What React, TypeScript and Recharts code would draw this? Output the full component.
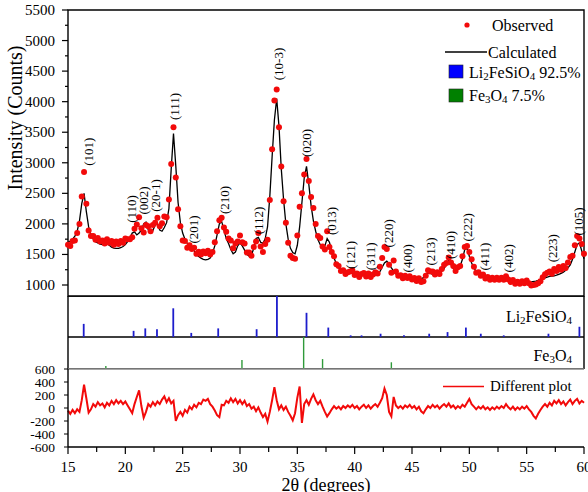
import React from "react";
import {
  ComposedChart,
  Line,
  Scatter,
  XAxis,
  YAxis,
  ReferenceArea,
  ReferenceLine
} from "recharts";

const serif = "'Liberation Serif', 'Times New Roman', serif";
const red = "#f20a0a";

// 2θ scan, 15° to 60° in 0.2° steps
const observed = [
  1660, 1640, 1720, 1730, 1850, 2000, 2450, 2850, 2330, 1890,
  1800, 1800, 1740, 1770, 1710, 1730, 1680, 1750, 1690, 1720,
  1660, 1710, 1670, 1720, 1690, 1760, 1750, 1750, 1780, 1920,
  1990, 2110, 1930, 1860, 1980, 1960, 1880, 1980, 2020, 2100,
  1960, 2010, 2120, 2110, 2400, 2980, 3580, 2760, 2240, 1960,
  1730, 1720, 1610, 1650, 1590, 1610, 1510, 1545, 1500, 1550,
  1520, 1560, 1500, 1540, 1700, 1880, 2060, 2100, 1940, 1870,
  1760, 1730, 1600, 1680, 1710, 1810, 1700, 1680, 1530, 1530,
  1480, 1620, 1710, 1850, 1630, 1540, 1670, 1740, 2390, 3220,
  4020, 4200, 3580, 2940, 2370, 2020, 1690, 1480, 1440, 1430,
  1810, 2280, 2500, 2810, 3060, 2700, 2440, 2260, 2000, 1800,
  1770, 1630, 1580, 1880, 1620, 1540, 1470, 1340, 1310, 1230,
  1240, 1180, 1210, 1220, 1240, 1165, 1190, 1130, 1180, 1195,
  1140, 1190, 1130, 1170, 1210, 1190, 1300, 1440, 1620, 1590,
  1330, 1200, 1400, 1220, 1150, 1160, 1110, 1150, 1115, 1145,
  1090, 1115, 1065, 1110, 1050, 1060, 1150, 1240, 1220, 1220,
  1170, 1210, 1180, 1260, 1330, 1360, 1450, 1370, 1310, 1230,
  1290, 1310, 1470, 1620, 1640, 1540, 1420, 1300, 1200, 1210,
  1150, 1170, 1105, 1130, 1085, 1120, 1085, 1120, 1085, 1120,
  1085, 1145, 1090, 1050, 1080, 1020, 1055, 1020, 1060, 1030,
  1075, 1030, 990, 1000, 1010, 1030, 1060, 1125, 1175, 1200,
  1220, 1185, 1260, 1230, 1295, 1250, 1310, 1280, 1370, 1460,
  1480, 1650, 1800, 1760, 1670, 1510
];

const calculated = [
  1700, 1720, 1750, 1800, 1880, 2050, 2330, 2500, 2200, 1950,
  1820, 1750, 1710, 1690, 1670, 1660, 1665, 1675, 1650, 1620,
  1605, 1598, 1600, 1610, 1630, 1660, 1710, 1770, 1850, 1870,
  1820, 1850, 1900, 2000, 2030, 1900, 1860, 1890, 1980, 2000,
  1900, 1880, 1940, 2020, 2250, 2900, 3480, 2950, 2350, 2020,
  1850, 1750, 1680, 1630, 1610, 1560, 1500, 1465, 1440, 1420,
  1410, 1420, 1440, 1520, 1640, 1820, 2000, 2040, 1900, 1760,
  1680, 1580, 1510, 1540, 1640, 1690, 1640, 1570, 1500, 1470,
  1490, 1600, 1760, 1780, 1700, 1680, 1760, 1950, 2450, 3100,
  3700, 4050, 3600, 2900, 2400, 2000, 1750, 1600, 1530, 1510,
  1650, 1950, 2350, 2750, 2940, 2650, 2300, 2050, 1880, 1740,
  1660, 1610, 1640, 1760, 1700, 1560, 1440, 1350, 1290, 1250,
  1210, 1185, 1175, 1210, 1195, 1175, 1170, 1160, 1165, 1155,
  1150, 1155, 1150, 1150, 1160, 1175, 1220, 1290, 1360, 1390,
  1350, 1280, 1230, 1180, 1150, 1130, 1120, 1110, 1105, 1095,
  1090, 1085, 1085, 1090, 1100, 1120, 1150, 1190, 1200, 1170,
  1160, 1170, 1190, 1230, 1270, 1340, 1410, 1360, 1270, 1240,
  1260, 1310, 1420, 1580, 1600, 1470, 1360, 1280, 1220, 1190,
  1160, 1140, 1125, 1120, 1115, 1110, 1105, 1100, 1095, 1090,
  1085, 1085, 1080, 1070, 1060, 1050, 1045, 1040, 1040, 1042,
  1045, 1048, 1052, 1058, 1065, 1075, 1090, 1105, 1115, 1130,
  1140, 1145, 1150, 1160, 1175, 1190, 1210, 1240, 1280, 1330,
  1420, 1540, 1660, 1690, 1560, 1430
];

const difference = [
  -40, -90, -30, -80, -20, -60, 120, 360, 150, -70,
  -20, 60, 20, 90, 40, 70, 10, 80, 40, 110,
  60, 120, 70, 110, 60, 100, 40, -20, -80, 60,
  170, 270, 30, -150, -60, 60, 20, 90, 40, 100,
  60, 130, 180, 90, 150, 70, 110, -200, -110, -60,
  -120, -30, -70, 20, -20, 50, 10, 80, 60, 130,
  110, 140, 60, 20, -40, -110, -140, 50, 40, 110,
  80, 150, 90, 140, 70, 120, 60, 110, 30, 60,
  -10, 20, -50, 10, -70, -140, -90, -210, -60, 120,
  320, 120, -20, 40, -30, 20, -60, -120, -190, -80,
  160, 330, -230, 60, 120, 50, 140, 210, 120, 60,
  110, 20, -60, -130, -80, -20, 30, -10, 20, -20,
  30, 0, 40, 10, 50, 0, 30, -20, 20, 50,
  0, 40, -10, 30, 60, 20, 80, 150, 300, 200,
  -60, -130, 170, 40, 0, 30, -10, 40, 10, 50,
  0, 30, -20, 20, -50, -80, -20, 30, 0, 50,
  10, 40, -10, 30, 60, 20, 70, 10, 40, -10,
  30, 0, 50, 20, 80, 140, 60, 20, -20, 20,
  -10, 30, -20, 10, -30, 10, -20, 20, -10, 30,
  0, 60, 10, -20, 20, -30, 10, -20, 20, -10,
  30, -20, -60, -120, -160, -90, -30, 20, 60, 20,
  80, 40, 110, 70, 120, 60, 100, 40, 90, 130,
  60, 110, 140, 70, 110, 80
];

// Bragg reflections: 2θ and relative intensity
const lfsPositions = [
  16.37, 20.72, 21.74, 22.76, 24.18, 25.75, 28.1, 31.45, 33.22, 35.8,
  37.7, 39.65, 40.6, 42.26, 44.3, 46.5, 48.1, 49.7, 51.0, 53.0, 56.9, 59.6
];
const lfsIntensity = [
  32, 15, 21, 19, 70, 10, 21, 19, 100, 59,
  23, 4, 4, 8, 4, 8, 12, 23, 8, 4, 8, 25
];
const fe3o4Positions = [18.3, 30.17, 35.55, 37.2, 43.2];
const fe3o4Intensity = [9, 28, 100, 31, 21];

// hkl labels of Li2FeSiO4 reflections (2θ, intensity level of the label centre)
const hklNames = [
  "(101)", "(110)", "(002)", "(20-1)", "(111)", "(201)", "(210)", "(112)",
  "(10-3)", "(020)", "(013)", "(121)", "(311)", "(220)", "(400)", "(213)",
  "(410)", "(222)", "(411)", "(402)", "(223)", "(105)"
];
const hklTheta = [
  16.77, 20.56, 21.57, 22.59, 24.27, 25.93, 28.69, 31.6,
  33.34, 35.76, 38.0, 39.65, 41.36, 42.98, 44.61, 46.64,
  48.38, 49.84, 51.28, 53.46, 57.25, 59.56
];
const hklLevel = [
  3181, 2244, 2383, 2465, 3921, 1908, 2391, 2055,
  4616, 3324, 2047, 1491, 1470, 1846, 1437, 1548,
  1655, 1944, 1466, 1437, 1601, 2039
];

const intensityTicks = [
  1000, 1250, 1500, 1750, 2000, 2250, 2500, 2750, 3000, 3250,
  3500, 3750, 4000, 4250, 4500, 4750, 5000, 5250, 5500
];
const thetaTicks = [15, 17.5, 20, 22.5, 25, 27.5, 30, 32.5, 35, 37.5, 40, 42.5, 45, 47.5, 50, 52.5, 55, 57.5, 60];
const diffTicks = [-600, -400, -200, 0, 200, 400, 600];

const scan = observed.map((obs, i) => ({
  tt: Math.round((15 + i * 0.2) * 10) / 10,
  obs,
  calc: calculated[i],
  diff: difference[i]
}));
const lfsSticks = lfsPositions.map((tt, i) => ({ tt, h: lfsIntensity[i] }));
const feSticks = fe3o4Positions.map((tt, i) => ({ tt, h: fe3o4Intensity[i] }));
const hklLabels = hklNames.map((hkl, i) => ({ hkl, tt: hklTheta[i], level: hklLevel[i] }));

const IntensityTick = (props: any) => {
  const { x, y, payload } = props;
  const major = payload.value % 500 === 0;
  return (
    <g>
      <line x1={x + 13 - (major ? 6 : 3)} x2={x + 13} y1={y} y2={y} stroke="#000" strokeWidth={1.2} />
      {major && (
        <text x={x} y={y} textAnchor="end" dominantBaseline="central" fontSize={15} fontFamily={serif} fill="#000">
          {payload.value}
        </text>
      )}
    </g>
  );
};

const ThetaTick = (props: any) => {
  const { x, y, payload } = props;
  const major = payload.value % 5 === 0;
  const axisY = y - 14;
  return (
    <g>
      <line x1={x} x2={x} y1={axisY} y2={axisY + (major ? 7 : 5)} stroke="#000" strokeWidth={1.2} />
      {major && (
        <text x={x} y={y} dy="0.75em" textAnchor="middle" fontSize={15} fontFamily={serif} fill="#000">
          {payload.value}
        </text>
      )}
    </g>
  );
};

const HklLabel = (props: any) => {
  const { cx, cy, payload } = props;
  return (
    <text
      x={cx}
      y={cy}
      transform={`rotate(-90 ${cx} ${cy})`}
      textAnchor="middle"
      dominantBaseline="central"
      fontSize={13}
      fontFamily={serif}
      fill="#000"
    >
      {payload.hkl}
    </text>
  );
};

// chemical formula with subscripts, e.g. [["Li","2"],["FeSiO","4"]]
const Formula = ({ parts, tail }: { parts: string[][]; tail?: string }) => (
  <>
    {parts.map(([base, sub], i) => (
      <React.Fragment key={i}>
        <tspan dy={i === 0 ? 0 : -4}>{base}</tspan>
        <tspan fontSize={11} dy={4}>{sub}</tspan>
      </React.Fragment>
    ))}
    {tail && <tspan dy={-4}>{tail}</tspan>}
  </>
);

const Nothing = () => <g />;

export default function App() {
  return (
    <div
      style={{
        position: "absolute",
        left: 0,
        top: 0,
        width: 588,
        height: 492,
        overflow: "hidden",
        background: "#fff",
        fontFamily: serif
      }}
    >
      {/* observed / calculated pattern */}
      <div style={{ position: "absolute", left: 0, top: 0 }}>
        <ComposedChart width={588} height={300} data={scan} margin={{ top: 10, right: 4, bottom: 4, left: 8 }}>
          <XAxis dataKey="tt" type="number" domain={[15, 60]} hide />
          <YAxis
            type="number"
            domain={[820, 5500]}
            ticks={intensityTicks}
            interval={0}
            allowDataOverflow
            width={60}
            axisLine={false}
            tickLine={false}
            tickSize={6}
            tickMargin={7}
            tick={<IntensityTick />}
          />
          <ReferenceArea x1={15} x2={60} y1={820} y2={5500} fill="none" stroke="#000" strokeWidth={1.4} />
          <Scatter
            dataKey="obs"
            isAnimationActive={false}
            shape={(p: any) => <circle cx={p.cx} cy={p.cy} r={3} fill={red} />}
          />
          <Line
            dataKey="calc"
            type="linear"
            stroke="#000"
            strokeWidth={1.3}
            dot={false}
            isAnimationActive={false}
          />
          <Scatter data={hklLabels} dataKey="level" isAnimationActive={false} shape={<HklLabel />} />
        </ComposedChart>
      </div>

      {/* Li2FeSiO4 reflections */}
      <div style={{ position: "absolute", left: 0, top: 296 }}>
        <ComposedChart width={588} height={41} data={lfsSticks} margin={{ top: 0, right: 4, bottom: 0, left: 68 }}>
          <XAxis dataKey="tt" type="number" domain={[15, 60]} hide />
          <YAxis type="number" domain={[0, 100]} hide />
          <Scatter dataKey="h" isAnimationActive={false} shape={<Nothing />} />
          {lfsSticks.map((s) => (
            <ReferenceLine
              key={s.tt}
              segment={[{ x: s.tt, y: 0 }, { x: s.tt, y: s.h }]}
              stroke="#1d1dcc"
              strokeWidth={1.8}
            />
          ))}
          <ReferenceArea x1={15} x2={60} y1={0} y2={100} fill="none" stroke="#000" strokeWidth={1.4} />
        </ComposedChart>
      </div>

      {/* Fe3O4 reflections */}
      <div style={{ position: "absolute", left: 0, top: 337 }}>
        <ComposedChart width={588} height={32} data={feSticks} margin={{ top: 0, right: 4, bottom: 0, left: 68 }}>
          <XAxis dataKey="tt" type="number" domain={[15, 60]} hide />
          <YAxis type="number" domain={[0, 100]} hide />
          <Scatter dataKey="h" isAnimationActive={false} shape={<Nothing />} />
          {feSticks.map((s) => (
            <ReferenceLine
              key={s.tt}
              segment={[{ x: s.tt, y: 0 }, { x: s.tt, y: s.h }]}
              stroke="#2f9a3a"
              strokeWidth={1.4}
            />
          ))}
          <ReferenceArea x1={15} x2={60} y1={0} y2={100} fill="none" stroke="#000" strokeWidth={1.4} />
        </ComposedChart>
      </div>

      {/* difference curve */}
      <div style={{ position: "absolute", left: 0, top: 360 }}>
        <ComposedChart width={588} height={132} data={scan} margin={{ top: 9, right: 4, bottom: 0, left: 8 }}>
          <XAxis
            dataKey="tt"
            type="number"
            domain={[15, 60]}
            ticks={thetaTicks}
            interval={0}
            height={45}
            axisLine={{ stroke: "#000", strokeWidth: 1.4 }}
            tickLine={false}
            tickSize={6}
            tickMargin={8}
            tick={<ThetaTick />}
          />
          <YAxis
            type="number"
            domain={[-600, 600]}
            ticks={diffTicks}
            interval={0}
            allowDataOverflow
            width={60}
            axisLine={{ stroke: "#000", strokeWidth: 1.4 }}
            tickLine={{ stroke: "#000" }}
            tickSize={4}
            tickMargin={9}
            tick={{ fontSize: 13.5, fill: "#000", fontFamily: serif }}
          />
          <ReferenceLine y={600} stroke="#888" strokeWidth={1.4} />
          <Line
            dataKey="diff"
            type="linear"
            stroke={red}
            strokeWidth={2}
            dot={false}
            isAnimationActive={false}
          />
        </ComposedChart>
      </div>

      {/* titles and legend */}
      <svg
        width={588}
        height={492}
        style={{ position: "absolute", left: 0, top: 0, pointerEvents: "none" }}
        fontFamily={serif}
        fill="#000"
      >
        <text transform="translate(15 118) rotate(-90)" textAnchor="middle" dominantBaseline="central" fontSize={20}>
          Intensity (Counts)
        </text>
        <text x={326} y={491} textAnchor="middle" fontSize={18}>
          2θ (degrees)
        </text>

        <circle cx={467} cy={25} r={2.6} fill={red} />
        <text x={492} y={25} dominantBaseline="central" fontSize={16}>Observed</text>
        <line x1={445} x2={487} y1={52} y2={52} stroke="#000" strokeWidth={1.4} />
        <text x={488} y={52} dominantBaseline="central" fontSize={16}>Calculated</text>
        <rect x={449} y={65} width={14} height={13} fill="#0000ff" stroke="#222" strokeWidth={0.6} />
        <text x={469} y={72} dominantBaseline="central" fontSize={16}>
          <Formula parts={[["Li", "2"], ["FeSiO", "4"]]} tail=" 92.5%" />
        </text>
        <rect x={449} y={89} width={14} height={13} fill="#008000" stroke="#222" strokeWidth={0.6} />
        <text x={469} y={95} dominantBaseline="central" fontSize={16}>
          <Formula parts={[["Fe", "3"], ["O", "4"]]} tail=" 7.5%" />
        </text>

        <text x={572} y={316} textAnchor="end" dominantBaseline="central" fontSize={16}>
          <Formula parts={[["Li", "2"], ["FeSiO", "4"]]} />
        </text>
        <text x={572} y={355} textAnchor="end" dominantBaseline="central" fontSize={16}>
          <Formula parts={[["Fe", "3"], ["O", "4"]]} />
        </text>

        <line x1={443} x2={484} y1={386.5} y2={386.5} stroke={red} strokeWidth={1.6} />
        <text x={490} y={386} dominantBaseline="central" fontSize={15}>Different plot</text>
      </svg>
    </div>
  );
}
